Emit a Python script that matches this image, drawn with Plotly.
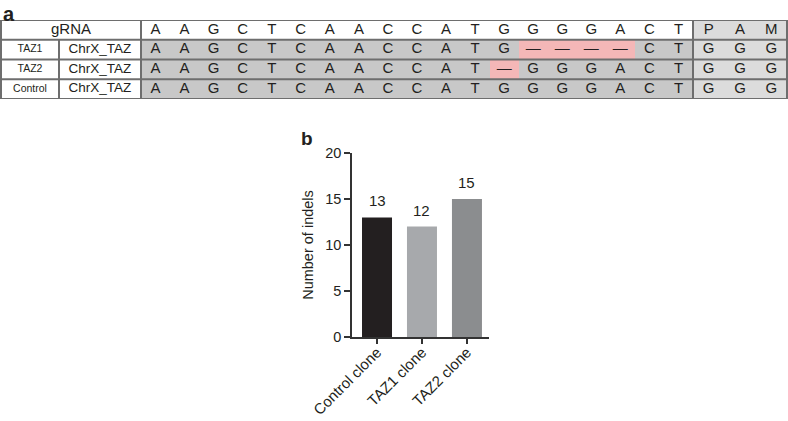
import plotly.graph_objects as go

# ---- datos panel a (tabla de secuencias) ----
guia = "AAGCTCAACCATGGGGACT"
pam_titulo = ["P", "A", "M"]
muestras = ["TAZ1", "TAZ2", "Control"]
diana = ["ChrX_TAZ", "ChrX_TAZ", "ChrX_TAZ"]
secuencias = [
    "AAGCTCAACCATG----CT",   # '-' = base eliminada
    "AAGCTCAACCAT-GGGACT",
    "AAGCTCAACCATGGGGACT",
]
pam = ["GGG", "GGG", "GGG"]

# ---- datos panel b (barras) ----
clones = ["Control clone", "TAZ1 clone", "TAZ2 clone"]
indels = [13, 12, 15]
colores_barras = ["#231f20", "#a7a9ac", "#8b8d8f"]

W, H = 788, 421
FUENTE = "Liberation Sans, Arial, Helvetica, sans-serif"
TXT = "#231f20"

# bordes de columnas de la tabla (en px)
izq, der = 1, 787
bordes = [izq, 59, 141]
ancho_seq = (693 - 141) / len(guia)
for i in range(1, len(guia) + 1):
    bordes.append(141 + i * ancho_seq)
ancho_pam = (der - 693) / len(pam_titulo)
for i in range(1, len(pam_titulo) + 1):
    bordes.append(693 + i * ancho_pam)
centros = [(bordes[i] + bordes[i + 1]) / 2 for i in range(len(bordes) - 1)]

# matriz de colores: 0 blanco, 1 gris, 2 rosa, 3 gris claro
z = []
fila = [0, 0] + [0] * len(guia) + [3] * len(pam_titulo)
z.append(fila)
for s, p in zip(secuencias, pam):
    z.append([0, 0] + [2 if c == "-" else 1 for c in s] + [3] * len(p))

fig = go.Figure()

fig.add_trace(go.Heatmap(
    z=z, x=bordes, y=[0, 1, 2, 3, 4],
    colorscale=[[0, "#ffffff"], [1 / 3, "#c8c8c8"], [2 / 3, "#f4b7b7"], [1, "#dcdcdc"]],
    zmin=0, zmax=3, showscale=False, hoverinfo="skip",
    xaxis="x2", yaxis="y2"
))

# textos de la tabla
xs, ys, ts, tam = [], [], [], []
# encabezado
xs.append((bordes[0] + bordes[2]) / 2); ys.append(0.5); ts.append("gRNA"); tam.append(15)
for j, c in enumerate(guia):
    xs.append(centros[2 + j]); ys.append(0.5); ts.append(c); tam.append(15)
for j, c in enumerate(pam_titulo):
    xs.append(centros[2 + len(guia) + j]); ys.append(0.5); ts.append(c); tam.append(15)
# filas
for r, (m, d, s, p) in enumerate(zip(muestras, diana, secuencias, pam)):
    y = r + 1.5
    xs.append(centros[0]); ys.append(y); ts.append(m); tam.append(10.5)
    xs.append(centros[1]); ys.append(y); ts.append(d); tam.append(13.5)
    for j, c in enumerate(s):
        xs.append(centros[2 + j]); ys.append(y); ts.append("—" if c == "-" else c); tam.append(15)
    for j, c in enumerate(p):
        xs.append(centros[2 + len(guia) + j]); ys.append(y); ts.append(c); tam.append(15)

fig.add_trace(go.Scatter(
    x=xs, y=ys, text=ts, mode="text", textposition="middle center",
    textfont=dict(family=FUENTE, size=tam, color=TXT),
    hoverinfo="skip", showlegend=False, xaxis="x2", yaxis="y2"
))

# lineas de la tabla
linea = dict(color="#6e6e6e", width=2)
shapes = []
for k in range(5):
    shapes.append(dict(type="line", xref="x2", yref="y2", x0=izq, x1=der, y0=k, y1=k, line=linea))
for xv in [izq, 141, 693, der]:
    shapes.append(dict(type="line", xref="x2", yref="y2", x0=xv, x1=xv, y0=0, y1=4, line=linea))
shapes.append(dict(type="line", xref="x2", yref="y2", x0=59, x1=59, y0=1, y1=4, line=linea))

# panel b
fig.add_trace(go.Bar(
    x=clones, y=indels, marker=dict(color=colores_barras, line=dict(width=0)),
    width=0.667, showlegend=False, hoverinfo="skip"
))

anotaciones = []
for c, v in zip(clones, indels):
    anotaciones.append(dict(x=c, y=v, xref="x", yref="y", text=str(v), showarrow=False,
                            yanchor="bottom", yshift=6,
                            font=dict(family=FUENTE, size=15, color=TXT)))
anotaciones.append(dict(x=1 / W, y=1 - 1 / H, xref="paper", yref="paper", text="<b>a</b>",
                        showarrow=False, xanchor="left", yanchor="top",
                        font=dict(family=FUENTE, size=20, color=TXT)))
anotaciones.append(dict(x=299 / W, y=1 - 126 / H, xref="paper", yref="paper", text="<b>b</b>",
                        showarrow=False, xanchor="left", yanchor="top",
                        font=dict(family=FUENTE, size=19, color=TXT)))

eje = dict(showline=True, linecolor="#333333", linewidth=1.5, ticks="outside",
           tickcolor="#333333", tickwidth=1.5, showgrid=False, zeroline=False,
           tickfont=dict(family=FUENTE, size=14.5, color=TXT), automargin=False)

fig.update_layout(
    width=W, height=H,
    margin=dict(l=0, r=0, t=0, b=0),
    paper_bgcolor="white", plot_bgcolor="white",
    font=dict(family=FUENTE, color=TXT),
    xaxis=dict(eje, domain=[352 / W, 489 / W], range=[-0.556, 2.49],
               tickangle=-45, ticklen=5, ticklabelstandoff=-6,
               tickfont=dict(family=FUENTE, size=15, color=TXT)),
    yaxis=dict(eje, domain=[1 - 337 / H, 1 - 153 / H], range=[0, 20], dtick=5, ticklen=6,
               title=dict(text="Number of indels", standoff=8,
                          font=dict(family=FUENTE, size=14.5, color=TXT))),
    xaxis2=dict(domain=[0, 1], range=[0, W], visible=False, fixedrange=True),
    yaxis2=dict(domain=[1 - 99 / H, 1 - 20 / H], range=[4, 0], visible=False, fixedrange=True),
    shapes=shapes,
    annotations=anotaciones,
)

# quitar el margen por defecto del body para que la figura ocupe toda la ventana
fig.write_html("out.html", config={"displayModeBar": False},
               post_script="document.body.style.margin='0';")
